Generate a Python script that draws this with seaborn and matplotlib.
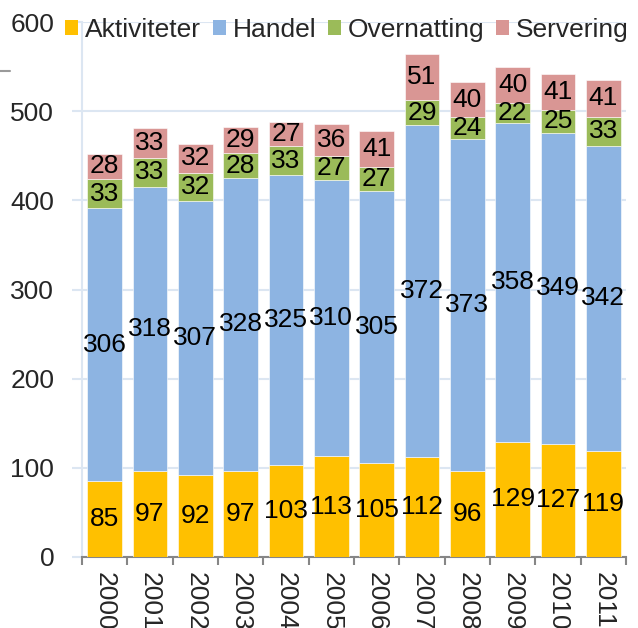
import matplotlib
matplotlib.use("Agg")
import matplotlib.pyplot as plt
from matplotlib.patches import Patch
from matplotlib.lines import Line2D
import numpy as np
import seaborn as sns

years = ["2000", "2001", "2002", "2003", "2004", "2005",
         "2006", "2007", "2008", "2009", "2010", "2011"]
aktiviteter = [85, 97, 92, 97, 103, 113, 105, 112, 96, 129, 127, 119]
handel = [306, 318, 307, 328, 325, 310, 305, 372, 373, 358, 349, 342]
overnatting = [33, 33, 32, 28, 33, 27, 27, 29, 24, 22, 25, 33]
servering = [28, 33, 32, 29, 27, 36, 41, 51, 40, 40, 41, 41]

series_names = ["Aktiviteter", "Handel", "Overnatting", "Servering"]
series_values = [aktiviteter, handel, overnatting, servering]
colors = ["#FFC000", "#8DB4E2", "#9BBB59", "#D99694"]

sns.set_style("white")
plt.rcParams["font.family"] = ["Liberation Sans", "DejaVu Sans"]
FS = 19

fig = plt.figure(figsize=(6.38, 6.28), dpi=100)
ax = fig.add_axes([82 / 638, 1 - 557 / 628, (626 - 82) / 638, (557 - 22) / 628])

bottom = np.zeros(len(years))
for name, vals, col in zip(series_names, series_values, colors):
    vals = np.asarray(vals, dtype=float)
    sns.barplot(x=years, y=vals, bottom=bottom, color=col, width=0.77,
                ax=ax, saturation=1, edgecolor="#ffffff", linewidth=0.4,
                zorder=3)
    cont = ax.containers[-1]
    ax.bar_label(cont, labels=[f"{int(v)}" for v in vals],
                 label_type="center", fontsize=FS, color="black", zorder=4)
    bottom += vals

ax.set_xlim(-0.5, len(years) - 0.5)
ax.set_ylim(0, 600)
ax.set_yticks(range(0, 601, 100))
ax.set_xlabel("")
ax.set_ylabel("")

grid_col = "#DCE6F2"
ax.yaxis.grid(True, color=grid_col, linewidth=1.5, zorder=0)
ax.set_axisbelow(True)

for s in ["top", "right"]:
    ax.spines[s].set_visible(False)
ax.spines["left"].set_color(grid_col)
ax.spines["left"].set_linewidth(1.5)
ax.spines["bottom"].set_color("#868686")
ax.spines["bottom"].set_linewidth(1.5)

ax.tick_params(axis="y", which="major", length=7, width=1.5, color=grid_col,
               direction="out", pad=13, labelsize=FS, left=True)

# Category labels at bar centres, tick marks at category boundaries
ax.set_xticks(range(len(years)))
ax.set_xticklabels(years, rotation=270, fontsize=FS)
ax.tick_params(axis="x", which="major", length=0, pad=11, bottom=True)
ax.set_xticks(np.arange(-0.5, len(years), 1.0), minor=True)
ax.tick_params(axis="x", which="minor", length=6, width=1.5,
               color="#868686", direction="out", bottom=True)

handles = [Patch(facecolor=c, edgecolor="none") for c in colors]
fig.legend(handles, series_names, loc="center left",
           bbox_to_anchor=(65 / 638, 1 - 30 / 628), ncol=4, frameon=False,
           fontsize=FS, handlelength=0.5, handleheight=0.5,
           handletextpad=0.25, columnspacing=0.45, borderpad=0,
           borderaxespad=0)

fig.add_artist(Line2D([0, 10 / 638], [1 - 71 / 628, 1 - 71 / 628],
                      color="#9a9a9a", linewidth=1.5))

fig.savefig("out.png", dpi=100)
